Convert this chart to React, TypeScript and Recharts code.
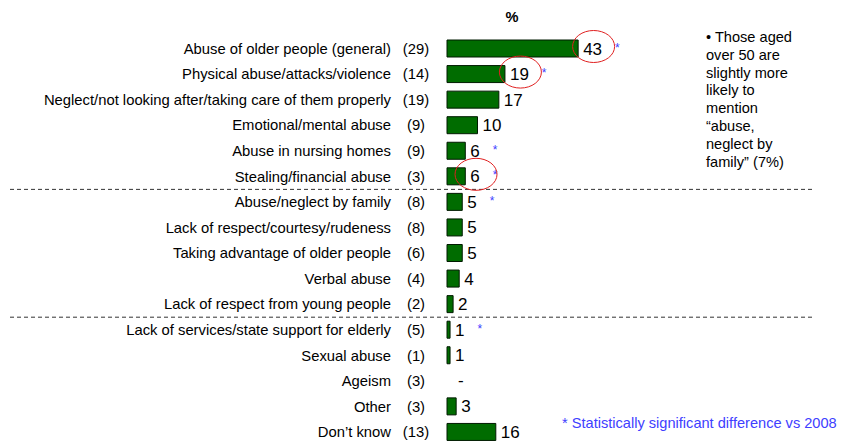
import { Bar, BarChart, XAxis, YAxis } from 'recharts'

const categories = [
  'Abuse of older people (general)',
  'Physical abuse/attacks/violence',
  'Neglect/not looking after/taking care of them properly',
  'Emotional/mental abuse',
  'Abuse in nursing homes',
  'Stealing/financial abuse',
  'Abuse/neglect by family',
  'Lack of respect/courtesy/rudeness',
  'Taking advantage of older people',
  'Verbal abuse',
  'Lack of respect from young people',
  'Lack of services/state support for elderly',
  'Sexual abuse',
  'Ageism',
  'Other',
  'Don\u2019t know',
]
const values2008 = [29, 14, 19, 9, 9, 3, 8, 8, 6, 4, 2, 5, 1, 3, 3, 13]
const values = [43, 19, 17, 10, 6, 6, 5, 5, 5, 4, 2, 1, 1, 0, 3, 16]
const significant = [true, true, false, false, true, true, true, false, false, false, false, true, false, false, false, false]
const circled = [true, true, false, false, false, true, false, false, false, false, false, false, false, false, false, false]
// a dashed divider is drawn above these rows
const groupStarts = [6, 11]

const sideNote = ['\u2022 Those aged', 'over 50 are', 'slightly more', 'likely to', 'mention', '\u201cabuse,', 'neglect by', 'family\u201d (7%)']

const data = categories.map((name, i) => ({
  name,
  prev: values2008[i],
  value: values[i],
}))

const FONT = 'Arial, "Liberation Sans", sans-serif'

function CategoryTick(props: any) {
  const { x, y, payload, index } = props
  const half = payload && payload.offset ? payload.offset : 12.8
  return (
    <g>
      <text x={x - 56} y={y + 5} textAnchor="end" fontSize={14.8} fontFamily={FONT} fill="#000">
        {payload.value}
      </text>
      <text x={x - 31} y={y + 5} textAnchor="middle" fontSize={14.8} fontFamily={FONT} fill="#000">
        ({values2008[index]})
      </text>
      {/* zero-length bars get no label from recharts, so the dash goes here */}
      {values[index] === 0 && (
        <text x={x + 11} y={y + 5} fontSize={17} fontFamily={FONT} fill="#000">
          -
        </text>
      )}
      {groupStarts.includes(index) && (
        <line x1={10} x2={812} y1={y - half} y2={y - half} stroke="#333" strokeDasharray="4 3" />
      )}
    </g>
  )
}

function ValueLabel(props: any) {
  const { x, y, width, height, value, index } = props
  if (!value) return null
  const cy = y + height / 2
  const tx = x + width + 5
  const tw = String(value).length * 0.556 * 17
  return (
    <g>
      <text x={tx} y={cy + 6} fontSize={17} fontFamily={FONT} fill="#000">
        {value}
      </text>
      {significant[index] && (
        <text x={tx + tw + 13} y={cy + 3} fontSize={12} fontFamily={FONT} fill="#4040ff">
          *
        </text>
      )}
      {circled[index] && (
        <ellipse cx={tx + tw / 2 + 1} cy={cy - 2} rx={21} ry={16} fill="none" stroke="#e02020" strokeWidth={1} />
      )}
    </g>
  )
}

export default function App() {
  return (
    <div style={{ position: 'absolute', left: 0, top: 0, width: 843, height: 443, overflow: 'hidden', background: '#fff' }}>
      <BarChart
        width={843}
        height={445}
        data={data}
        layout="vertical"
        margin={{ top: 36, right: 91, bottom: 0, left: 0 }}
      >
        <XAxis type="number" domain={[0, 100]} hide />
        <YAxis
          type="category"
          dataKey="name"
          width={447}
          interval={0}
          tickSize={0}
          tickMargin={0}
          axisLine={false}
          tickLine={false}
          tick={<CategoryTick />}
        />
        <Bar
          dataKey="value"
          fill="#006c00"
          stroke="#001a00"
          strokeWidth={1}
          barSize={17}
          isAnimationActive={false}
          label={<ValueLabel />}
        />
        <text x={512} y={22} textAnchor="middle" fontSize={14.6} fontWeight="bold" fontFamily={FONT} fill="#000">
          %
        </text>
      </BarChart>
      <div
        style={{
          position: 'absolute',
          left: 706,
          top: 29,
          fontFamily: FONT,
          fontSize: 14.6,
          lineHeight: '17.8px',
          color: '#000',
        }}
      >
        {sideNote.map((line) => (
          <div key={line} style={{ whiteSpace: 'nowrap' }}>{line}</div>
        ))}
      </div>
      <div
        style={{
          position: 'absolute',
          left: 562,
          top: 414,
          fontFamily: FONT,
          fontSize: 14.6,
          lineHeight: '18px',
          color: '#4040ff',
          whiteSpace: 'nowrap',
        }}
      >
        * Statistically significant difference vs 2008
      </div>
    </div>
  )
}
